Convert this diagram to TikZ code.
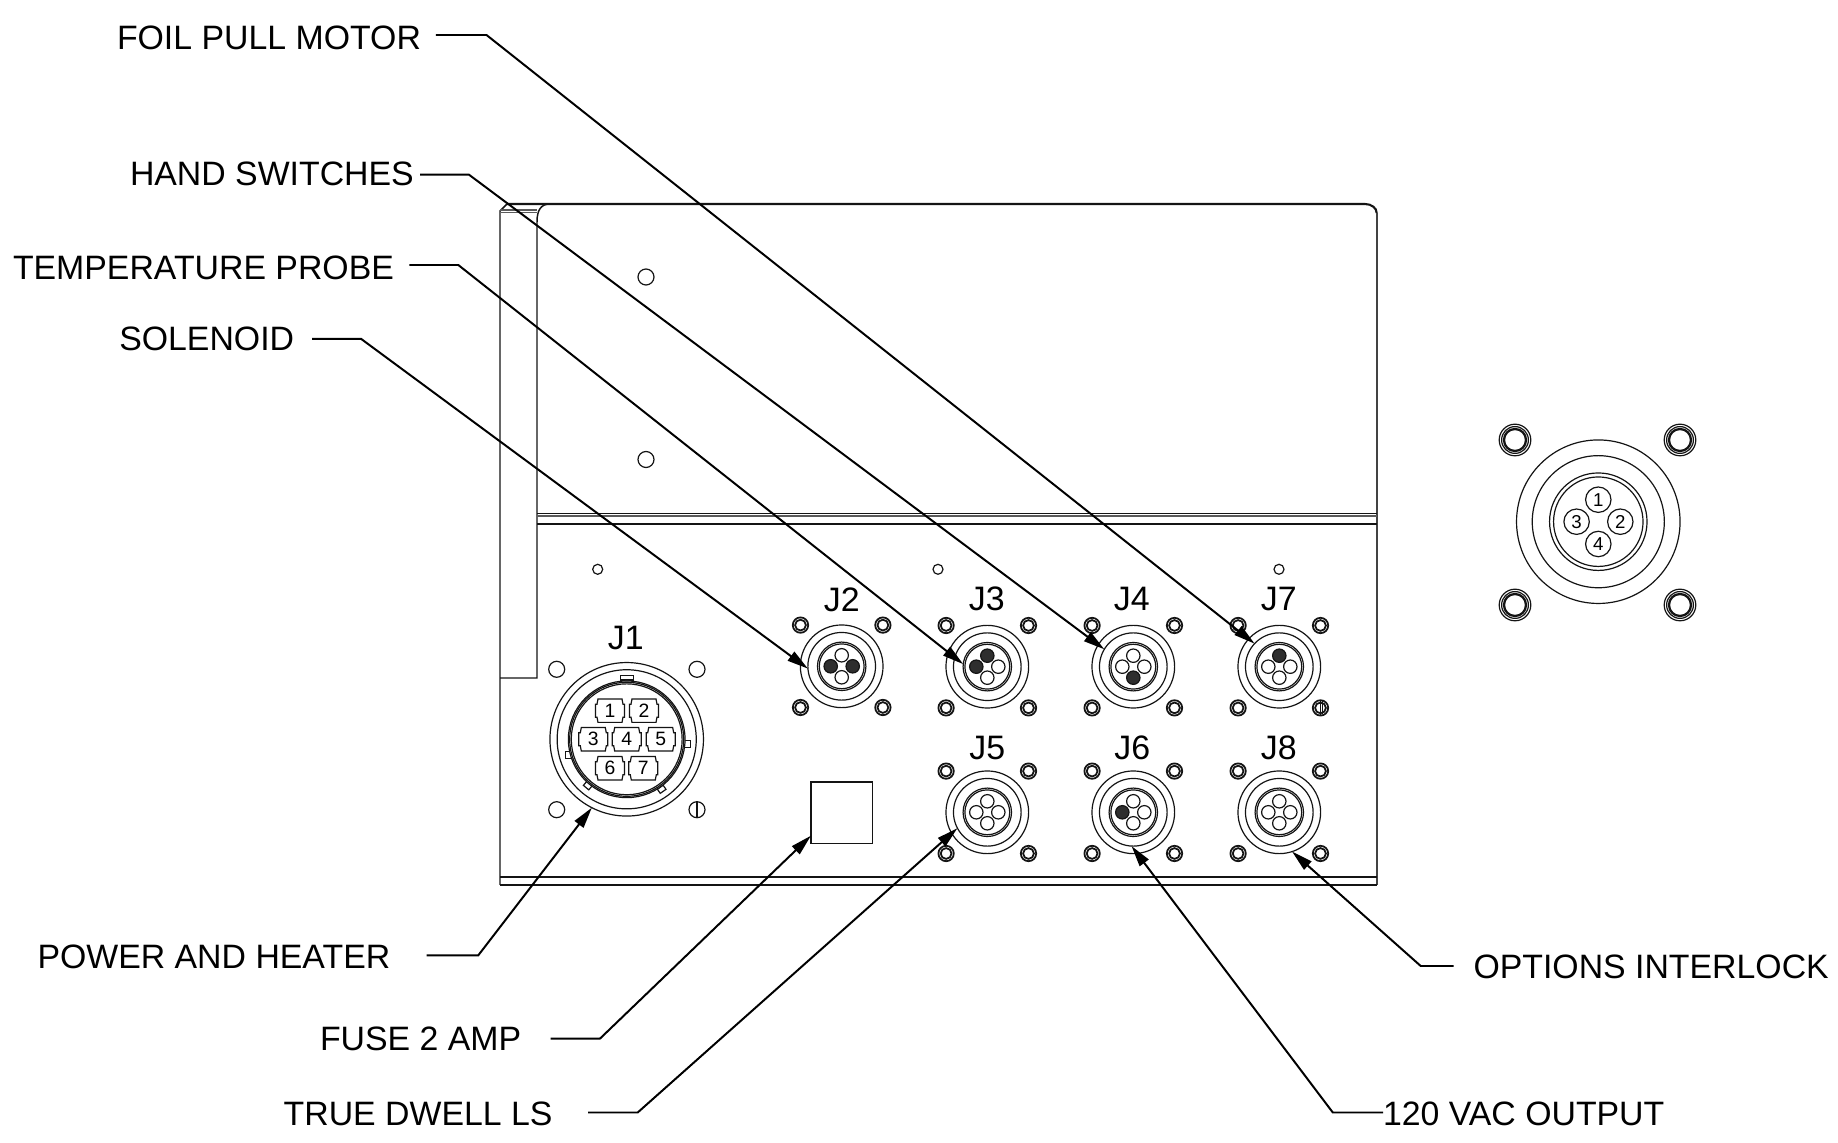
\documentclass[tikz,border=0pt]{standalone}
\usepackage{fontspec}
\setmainfont{Liberation Sans}
\usetikzlibrary{arrows.meta}
\definecolor{pindark}{HTML}{2E2E2E}
\definecolor{inkline}{HTML}{141414}
\tikzset{
  thin line/.style={draw=inkline,line width=0.34pt},
  body line/.style={draw=inkline,line width=0.42pt},
  top line/.style={draw=inkline,line width=0.6pt},
  fold line/.style={draw=inkline!70,line width=0.34pt},
  ring/.style={circle,thin line,inner sep=0pt,outer sep=0pt,minimum size=#1*0.02cm},
  bolt line/.style={draw=inkline,line width=0.5pt},
  leader/.style={draw=black,line width=0.56pt,-{Triangle[length=6pt,width=3.1pt]}},
  callout/.style={font=\fontsize{9.62}{11}\selectfont,anchor=west,inner ysep=0pt,inner xsep=#1*0.01cm,outer sep=0pt},
  callout/.default=15,
  jacktag/.style={font=\fontsize{9.64}{11}\selectfont,inner sep=0pt},
  numtag/.style={font=\fontsize{5.5}{6}\selectfont,inner sep=0pt},
  numtagb/.style={font=\fontsize{5.3}{6}\selectfont,inner sep=0pt},
}
% small jack: name, x, y, fill colours top right bottom left
\newcommand{\smalljack}[7]{%
  \begin{scope}[shift={(#2,#3)}]
    \node[ring=41.3] (#1-o) at (0,0) {};
    \node[ring=33.8] (#1-m) at (0,0) {};
    \node[ring=24.2] (#1-i) at (0,0) {};
    \node[ring=22.4] (#1-k) at (0,0) {};
    \draw[thin line,fill=#4] (0,-11) circle[radius=6.7];
    \draw[thin line,fill=#5] (11,0) circle[radius=6.7];
    \draw[thin line,fill=#6] (0,11) circle[radius=6.7];
    \draw[thin line,fill=#7] (-11,0) circle[radius=6.7];
    \foreach \hx/\hy in {-41.2/-41.2,41.2/-41.2,-41.2/41.2,41.2/41.2}{
      \draw[bolt line] (\hx,\hy) circle[radius=7.7];
      \draw[bolt line] (\hx,\hy) circle[radius=5.4];
    }
  \end{scope}%
}
\newcommand{\jpin}[4]{%
  \draw[thin line,shift={(#2,#3)}] (-12,-11.7)--(12,-11.7)--(13,-6.5)--(14.5,-6.5)--(14.5,6.5)--(13,6.5)--(12,11.7)--(-12,11.7)--(-13,6.5)--(-14.5,6.5)--(-14.5,-6.5)--(-13,-6.5)--cycle;
  \node[numtag] (#1) at (#2,#3) {#4};%
}
\begin{document}
\begin{tikzpicture}[x=0.01cm,y=-0.01cm]
\useasboundingbox[fill=white] (0,0) rectangle (1838,1143);

% housing
\draw[top line] (507,204) -- (1365,204) arc[start angle=90,end angle=0,x radius=11.7,y radius=-9] ;
\draw[top line,draw=inkline!80] (1376.7,213) -- (1376.7,885);
\draw[body line] (507,204) -- (500,211) -- (500,885);
\draw[body line] (550,204) .. controls (541,204) and (537,210) .. (537,222) -- (537,678) -- (500,678);
\draw[fold line] (500,210) -- (537,210);
\draw[fold line] (501,212.5) -- (537,212.5);
\draw[body line] (537,513.5) -- (1376.7,513.5);
\draw[fold line] (537,516) -- (1376.7,516);
\draw[body line] (537,524) -- (1376.7,524);
\draw[body line] (500,877) -- (1376.7,877);
\draw[body line] (500,885) -- (1376.7,885);

% plate holes
\draw[thin line] (646,277) circle[radius=8];
\draw[thin line] (646,459.5) circle[radius=8];
\draw[thin line] (597.7,569.3) circle[radius=5];
\draw[thin line] (938,569.3) circle[radius=5];
\draw[thin line] (1279,569.3) circle[radius=5];

% J1 connector
\draw[thin line] (620.2,680) rectangle (633.2,675.5);
\draw[thin line,shift={(687.3,744.3)}] (-3,-3.5) rectangle (3,3.5);
\draw[thin line,shift={(568.3,755.3)}] (-3,-3.5) rectangle (3,3.5);
\draw[thin line,shift={(587.7,785.7)},rotate=-40] (-3.5,-2.5) rectangle (3.5,2.5);
\draw[thin line,shift={(661.7,789.3)},rotate=35] (-3.5,-2.5) rectangle (3.5,2.5);
\node[ring=76.7] (j1-o) at (626.7,739.3) {};
\node[ring=69.5] (j1-m) at (626.7,739.3) {};
\node[ring=58.3,fill=white] (j1-i) at (626.7,739.3) {};
\node[ring=57] (j1-k) at (626.7,739.3) {};
\node[ring=55.4] (j1-h) at (626.7,739.3) {};
\jpin{p1}{610}{710.7}{1}
\jpin{p2}{644}{710.7}{2}
\jpin{p3}{593.3}{739.3}{3}
\jpin{p4}{626.7}{739.3}{4}
\jpin{p5}{660.7}{739.3}{5}
\jpin{p6}{610}{768.3}{6}
\jpin{p7}{643.3}{768.3}{7}
\draw[thin line] (556.7,669.3) circle[radius=8];
\draw[thin line] (697,669.3) circle[radius=8];
\draw[thin line] (556.7,809.7) circle[radius=8];
\draw[thin line] (697,809.7) circle[radius=8];
\draw[thin line] (697,801.7) -- (697,817.7);

% small jacks
\smalljack{j2}{841.7}{666.3}{white}{pindark}{white}{pindark}
\smalljack{j3}{987.3}{666.7}{pindark}{white}{white}{pindark}
\smalljack{j4}{1133.3}{666.7}{white}{white}{pindark}{white}
\smalljack{j7}{1279.3}{666.7}{pindark}{white}{white}{white}
\smalljack{j5}{987.3}{812.3}{white}{white}{white}{white}
\smalljack{j6}{1133.3}{812.3}{white}{white}{white}{pindark}
\smalljack{j8}{1279.3}{812.3}{white}{white}{white}{white}
\draw[thin line] (1320.5,700) -- (1320.5,715.5);
\draw[thin line] (1322.5,701) -- (1322.5,714.5);

% jack tags
\node[jacktag] (t1) at (625.7,637.7) {J1};
\node[jacktag] (t2) at (841.7,600) {J2};
\node[jacktag] (t3) at (986.7,599) {J3};
\node[jacktag] (t4) at (1131.7,599) {J4};
\node[jacktag] (t7) at (1278.7,599) {J7};
\node[jacktag] (t5) at (987.3,748) {J5};
\node[jacktag] (t6) at (1132.3,748) {J6};
\node[jacktag] (t8) at (1278.7,748) {J8};

% fuse
\node[draw=inkline,line width=0.42pt,inner sep=0pt,outer sep=0pt,minimum width=61.3*0.01cm,minimum height=61.3*0.01cm] (fuse) at (841.6,812.6) {};

% mating connector at right
\node[ring=81.7] (m-o) at (1598.3,521.7) {};
\node[ring=66] (m-m) at (1598.3,521.7) {};
\node[ring=48.7] (m-i) at (1598.3,521.7) {};
\node[ring=44.7] (m-k) at (1598.3,521.7) {};
\node[ring=12.7] (m1) at (1598.3,499.7) {};
\node[ring=12.7] (m2) at (1620.3,521.7) {};
\node[ring=12.7] (m3) at (1576.6,521.7) {};
\node[ring=12.7] (m4) at (1598.3,544) {};
\node[numtagb] (m1n) at (m1) {1};
\node[numtagb] (m2n) at (m2) {2};
\node[numtagb] (m3n) at (m3) {3};
\node[numtagb] (m4n) at (m4) {4};
\foreach \hx/\hy in {1515/440,1680/440,1515/605,1680/605}{
  \draw[thin line] (\hx,\hy) circle[radius=15.8];
  \draw[thin line] (\hx,\hy) circle[radius=13.4];
  \draw[bolt line,line width=0.65pt] (\hx,\hy) circle[radius=11];
}

% callouts
\node[callout] (foil) at (102,38) {FOIL PULL MOTOR};
\node[callout=6.4] (hand) at (123.6,174) {HAND SWITCHES};
\node[callout=15.5] (temp) at (-2.5,267.5) {TEMPERATURE PROBE};
\node[callout=18] (sole) at (101.3,339.3) {SOLENOID};
\node[callout=36.5] (powr) at (1,957) {POWER AND HEATER};
\node[callout=29.5] (fus2) at (290.5,1039) {FUSE 2 AMP};
\node[callout=35.5] (true) at (248.2,1114) {TRUE DWELL LS};
\node[callout=0] (vac) at (1383,1114) {120 VAC OUTPUT};
\node[callout=20] (opts) at (1453.5,966.5) {OPTIONS INTERLOCK};

\coordinate (e-foil) at (486.5,35);
\coordinate (e-hand) at (469,174.7);
\coordinate (e-temp) at (458.3,265);
\coordinate (e-sole) at (361,338.8);
\coordinate (e-powr) at (478.3,955.3);
\coordinate (e-fus2) at (600,1038.6);
\coordinate (e-true) at (637.7,1112.5);
\coordinate (e-vac) at (1332.8,1112.5);
\coordinate (e-opts) at (1420.7,966);

\draw[leader] (foil.east |- e-foil) -- (e-foil) -- (j7-m.137);
\draw[leader] (hand.east |- e-hand) -- (e-hand) -- (j4-m.149);
\draw[leader] (temp.east |- e-temp) -- (e-temp) -- (j3-i.174);
\draw[leader] (sole.east |- e-sole) -- (e-sole) -- (j2-m.184);
\draw[leader] (powr.east |- e-powr) -- (e-powr) -- (j1-o.243);
\draw[leader] (fus2.east |- e-fus2) -- (e-fus2) -- (fuse.217);
\draw[leader] (true.east |- e-true) -- (e-true) -- (j5-m.208);
\draw[leader] (vac.west |- e-vac) -- (e-vac) -- (j6-m.267);
\draw[leader] (opts.west |- e-opts) -- (e-opts) -- (j8-o.288);
\end{tikzpicture}
\end{document}
